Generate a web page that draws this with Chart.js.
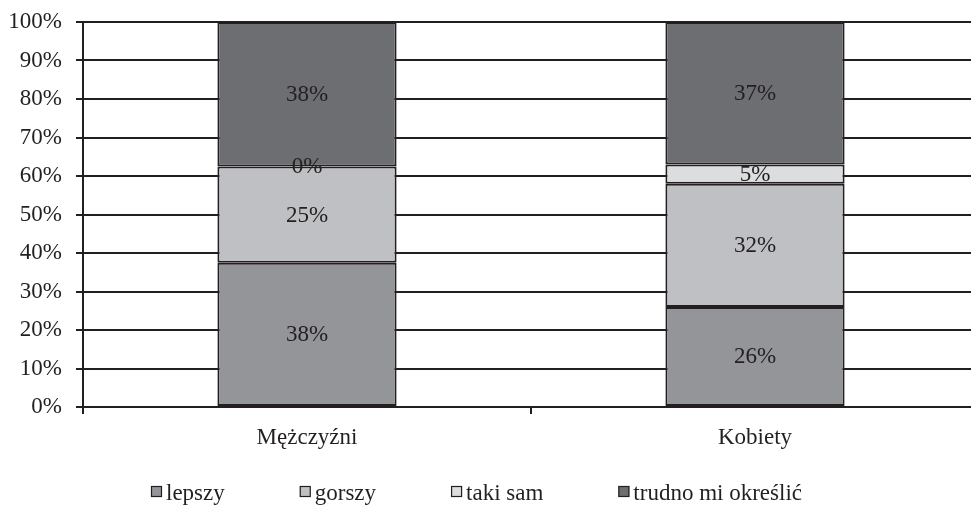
<!DOCTYPE html>
<html>
<head>
<meta charset="utf-8">
<script src="https://cdn.jsdelivr.net/npm/chart.js@4/dist/chart.umd.min.js"></script>
<style>
  html, body { margin: 0; padding: 0; background: #fff; overflow: hidden; }
  #wrap { position: relative; width: 981px; height: 505px; }
</style>
</head>
<body>
<div id="wrap"><canvas id="chart"></canvas></div>
<script>
const categories = ["Mężczyźni", "Kobiety"];
const seriesNames = ["lepszy", "gorszy", "taki sam", "trudno mi określić"];
const lepszy = [37.5, 26];
const gorszy = [25, 32];
const takiSam = [0, 5];
const trudno = [37.5, 37];
const colors = ["#939598", "#bfc0c3", "#dcdddf", "#6d6e71"];

const ink = "#231f20";
const serif = "'Liberation Serif', 'Times New Roman', serif";

const series = [lepszy, gorszy, takiSam, trudno];

// percent labels in the middle of each segment
const segmentLabels = {
  id: "segmentLabels",
  afterDatasetsDraw(chart) {
    const ctx = chart.ctx;
    ctx.save();
    ctx.font = "23px " + serif;
    ctx.fillStyle = ink;
    ctx.textAlign = "center";
    ctx.textBaseline = "middle";
    chart.data.datasets.forEach((ds, i) => {
      const meta = chart.getDatasetMeta(i);
      meta.data.forEach((bar, j) => {
        const y = (bar.y + bar.base) / 2;
        ctx.fillText(Math.round(ds.data[j]) + "%", bar.x, y + 1);
      });
    });
    ctx.restore();
  }
};

// legend drawn in a row under the axis
const bottomLegend = {
  id: "bottomLegend",
  afterDraw(chart) {
    const ctx = chart.ctx;
    ctx.save();
    ctx.font = "23px " + serif;
    ctx.textBaseline = "alphabetic";
    let x = 151;
    const y = 500;
    chart.data.datasets.forEach((ds) => {
      ctx.fillStyle = ds.backgroundColor;
      ctx.fillRect(x, 486, 11, 11);
      ctx.strokeStyle = ink;
      ctx.lineWidth = 1.2;
      ctx.strokeRect(x + 0.5, 486.5, 10, 10);
      ctx.fillStyle = ink;
      ctx.fillText(ds.label, x + 15, y);
      x += 15 + ctx.measureText(ds.label).width + 75;
    });
    ctx.restore();
  }
};

new Chart(document.getElementById("chart"), {
  type: "bar",
  data: {
    labels: categories,
    datasets: seriesNames.map((name, i) => ({
      label: name,
      data: series[i],
      backgroundColor: colors[i],
      borderColor: ink,
      borderWidth: 2,
      borderSkipped: false,
      barPercentage: 0.4,
      categoryPercentage: 1
    }))
  },
  options: {
    responsive: true,
    maintainAspectRatio: false,
    animation: false,
    layout: { padding: { top: 0, right: 2, left: 0, bottom: 0 } },
    plugins: {
      legend: { display: false },
      tooltip: { enabled: false }
    },
    scales: {
      x: {
        stacked: true,
        grid: {
          display: true,
          drawOnChartArea: false,
          offset: true,
          color: ink,
          lineWidth: 2,
          tickLength: 7
        },
        border: { display: true, color: ink, width: 2 },
        ticks: {
          color: ink,
          font: { family: serif, size: 23 },
          padding: 10
        },
        afterFit(scale) { scale.height = 98; }
      },
      y: {
        stacked: true,
        min: 0,
        max: 100,
        grid: { color: ink, lineWidth: 2, tickLength: 7 },
        border: { display: true, color: ink, width: 2 },
        ticks: {
          stepSize: 10,
          color: ink,
          font: { family: serif, size: 23 },
          padding: 14,
          callback: (v) => v + "%"
        },
        afterFit(scale) {
          scale.width = 83;
          scale.paddingTop = 22;
          scale.paddingBottom = 0;
        }
      }
    }
  },
  plugins: [segmentLabels, bottomLegend]
});
</script>
</body>
</html>
